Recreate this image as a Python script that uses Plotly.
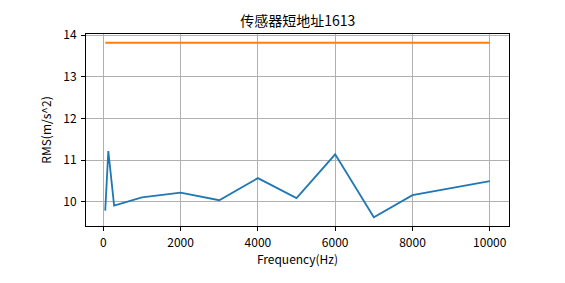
import plotly.graph_objects as go

freq = [50, 130, 280, 1000, 2000, 3000, 4000, 5000, 6000, 7000, 8000, 9000, 10000]
rms = [9.79, 11.22, 9.91, 10.11, 10.22, 10.04, 10.57, 10.09, 11.14, 9.63, 10.16, 10.33, 10.50]
threshold = [13.82] * len(freq)

title = "传感器短地址1613"
xlabel = "Frequency(Hz)"
ylabel = "RMS(m/s^2)"
xticks = [0, 2000, 4000, 6000, 8000, 10000]
yticks = [10, 11, 12, 13, 14]

def pad(lo, hi, m=0.05):
    s = hi - lo
    return [lo - m * s, hi + m * s]

xr = pad(min(freq), max(freq))
yr = pad(min(rms + threshold), max(rms + threshold))

font = "Noto Sans CJK SC, SimHei, sans-serif"

fig = go.Figure()
fig.add_trace(go.Scatter(x=freq, y=rms, mode="lines",
                         line=dict(color="#1f77b4", width=1.8), showlegend=False))
fig.add_trace(go.Scatter(x=freq, y=threshold, mode="lines",
                         line=dict(color="#ff7f0e", width=1.8), showlegend=False))

axis_common = dict(showline=True, mirror=True, linecolor="black", linewidth=1,
                   ticks="outside", ticklen=4, tickcolor="black", tickwidth=1,
                   showgrid=True, gridcolor="#b0b0b0", gridwidth=1, zeroline=False,
                   tickfont=dict(family=font, size=12, color="black"))

fig.update_layout(
    width=565, height=283,
    margin=dict(l=86, r=56, t=34, b=57),
    paper_bgcolor="white", plot_bgcolor="white",
    font=dict(family=font, color="black"),
    title=dict(text=title, x=0.527, xanchor="center", y=0.925, yanchor="middle",
               font=dict(family=font, size=14, color="black")),
    xaxis=dict(range=xr, tickvals=xticks, ticktext=[str(v) for v in xticks],
               ticklabelstandoff=2,
               title=dict(text=xlabel, font=dict(family=font, size=12), standoff=5),
               **axis_common),
    yaxis=dict(range=yr, tickvals=yticks, ticktext=[str(v) for v in yticks],
               ticklabelstandoff=2,
               title=dict(text=ylabel, font=dict(family=font, size=12), standoff=9),
               **axis_common),
)

fig.write_html("out.html")
